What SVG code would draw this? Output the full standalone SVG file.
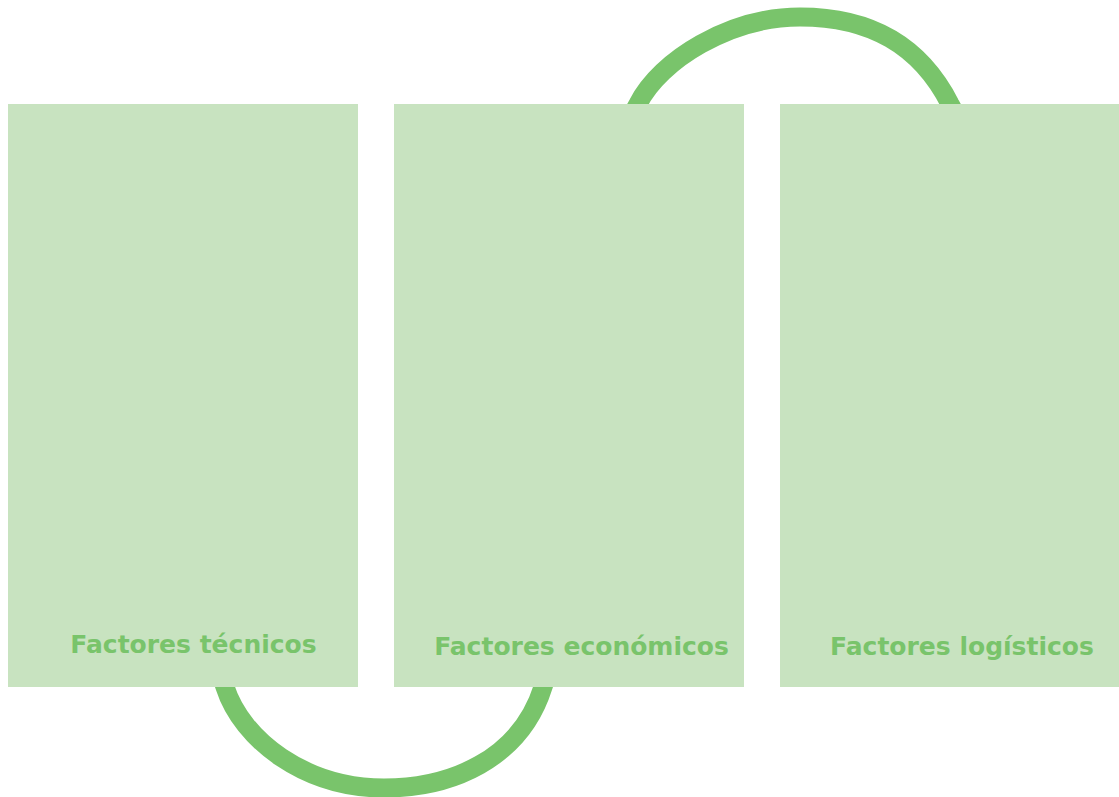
<svg xmlns="http://www.w3.org/2000/svg" width="1119" height="797" viewBox="0 0 1119 797">
  <style>
    .link { fill: none; stroke: #79c46b; stroke-width: 19; stroke-linecap: butt; }
    .panel { fill: #c8e3c0; }
    .label { font-family: "DejaVu Sans", Verdana, sans-serif; font-weight: bold; font-size: 25px; fill: #79c46b; text-anchor: middle; }
  </style>
  <rect width="1119" height="797" fill="#ffffff"/>
  <!-- connectors: drawn first so the panels cover their ends -->
  <g id="connectors">
    <path class="link" d="M 628,122 L 638,104 C 660,60 730,17 800,17 C 870,17 920,45 950,104 L 960,122"/>
    <path class="link" d="M 219,669 L 225,687 C 242,740 305,788 384,788 C 450,788 520,760 543,687 L 549,669"/>
  </g>
  <g id="tecnicos">
    <rect class="panel" x="8" y="104" width="350" height="583"/>
    <text class="label" x="193.5" y="653">Factores técnicos</text>
  </g>
  <g id="economicos">
    <rect class="panel" x="394" y="104" width="350" height="583"/>
    <text class="label" x="581.5" y="655">Factores económicos</text>
  </g>
  <g id="logisticos">
    <rect class="panel" x="780" y="104" width="339" height="583"/>
    <text class="label" x="962" y="655">Factores logísticos</text>
  </g>
</svg>
